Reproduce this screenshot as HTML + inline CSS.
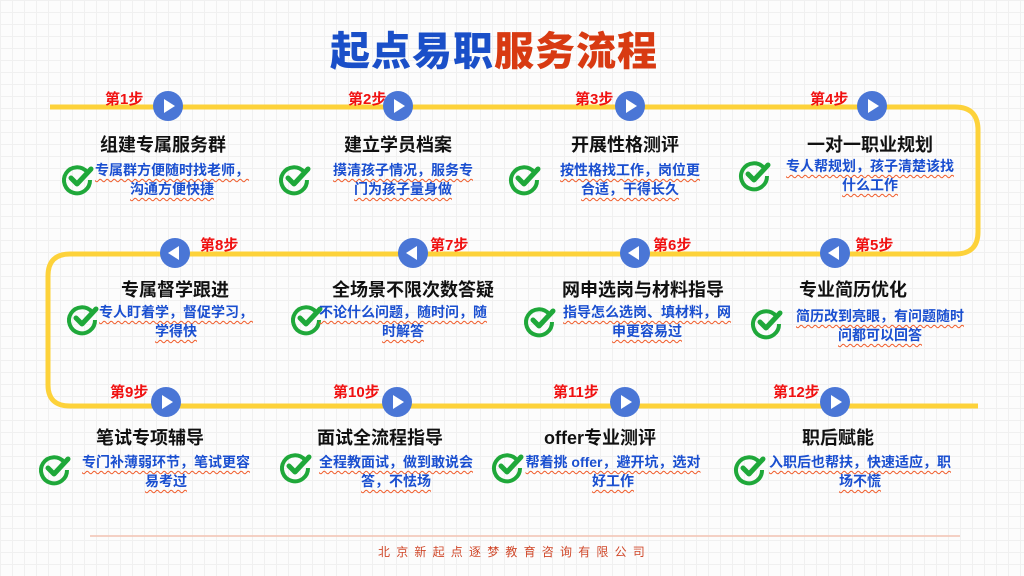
<!DOCTYPE html>
<html><head><meta charset="utf-8"><style>
body{margin:0;width:1024px;height:576px;overflow:hidden;position:relative;font-family:"Liberation Sans","Noto Sans CJK SC",sans-serif;
background:#fcfcfc;background-image:linear-gradient(#f0f0f0 1px,transparent 1px),linear-gradient(90deg,#f0f0f0 1px,transparent 1px);background-size:12px 12px;}
.t{position:absolute;transform:translateX(-50%);white-space:nowrap;}
.title{font-size:40px;font-weight:900;top:19px;left:494px;letter-spacing:1px}
.s{position:absolute;color:#f01010;font-weight:bold;font-size:15px;white-space:nowrap}
.h{position:absolute;transform:translateX(-50%);font-size:18px;font-weight:bold;color:#111;white-space:nowrap}
.d{position:absolute;transform:translateX(-50%);text-align:center;font-size:14px;font-weight:bold;color:#1a4fd0;line-height:19px;white-space:nowrap;text-decoration:underline wavy #f05a28;text-underline-offset:3px;text-decoration-thickness:1px}
.f{position:absolute;left:378px;top:543px;font-size:12px;letter-spacing:6.2px;color:#d0482a}
svg{position:absolute;left:0;top:0}
</style></head><body>
<svg width="1024" height="576">
<path d="M50 107 H955 Q978 107 978 130 V232 Q978 254 955 254 H70 Q48 254 48 276 V385 Q48 406 70 406 H978" fill="none" stroke="#fdd23a" stroke-width="5"/>
<line x1="90" y1="536" x2="960" y2="536" stroke="#f2c2b2" stroke-width="1.5"/>
<g fill="#4a76d6">
<circle cx="168" cy="106" r="15"/><circle cx="398" cy="106" r="15"/><circle cx="630" cy="106" r="15"/><circle cx="872" cy="106" r="15"/>
<circle cx="175" cy="253" r="15"/><circle cx="413" cy="253" r="15"/><circle cx="635" cy="253" r="15"/><circle cx="835" cy="253" r="15"/>
<circle cx="166" cy="402" r="15"/><circle cx="397" cy="402" r="15"/><circle cx="625" cy="402" r="15"/><circle cx="835" cy="402" r="15"/>
</g>
<g fill="#fff">
<path d="M164 99 L175 106 L164 113Z"/><path d="M394 99 L405 106 L394 113Z"/><path d="M626 99 L637 106 L626 113Z"/><path d="M868 99 L879 106 L868 113Z"/>
<path d="M179 246 L168 253 L179 260Z"/><path d="M417 246 L406 253 L417 260Z"/><path d="M639 246 L628 253 L639 260Z"/><path d="M839 246 L828 253 L839 260Z"/>
<path d="M162 395 L173 402 L162 409Z"/><path d="M393 395 L404 402 L393 409Z"/><path d="M621 395 L632 402 L621 409Z"/><path d="M831 395 L842 402 L831 409Z"/>
</g>
<defs><g id="ck"><path d="M9 -6 A13 13 0 1 0 12 2" fill="none" stroke="#1fa83a" stroke-width="4"/><path d="M-7 0 L-1 6 L13 -9" fill="none" stroke="#1fa83a" stroke-width="5" stroke-linecap="round" stroke-linejoin="round"/></g></defs>
<use href="#ck" x="78" y="178"/><use href="#ck" x="295" y="178"/><use href="#ck" x="525" y="178"/><use href="#ck" x="755" y="174"/>
<use href="#ck" x="83" y="318"/><use href="#ck" x="307" y="318"/><use href="#ck" x="540" y="320"/><use href="#ck" x="767" y="322"/>
<use href="#ck" x="55" y="468"/><use href="#ck" x="296" y="466"/><use href="#ck" x="508" y="466"/><use href="#ck" x="750" y="468"/>
</svg>
<div class="t title"><span style="color:#1a4fc8">起点易职</span><span style="color:#d83a12">服务流程</span></div>

<div class="s" style="left:105px;top:88px">第1步</div><div class="s" style="left:348px;top:88px">第2步</div><div class="s" style="left:575px;top:88px">第3步</div><div class="s" style="left:810px;top:88px">第4步</div>
<div class="s" style="left:200px;top:234px">第8步</div><div class="s" style="left:430px;top:234px">第7步</div><div class="s" style="left:653px;top:234px">第6步</div><div class="s" style="left:855px;top:234px">第5步</div>
<div class="s" style="left:110px;top:381px">第9步</div><div class="s" style="left:333px;top:381px">第10步</div><div class="s" style="left:553px;top:381px">第11步</div><div class="s" style="left:773px;top:381px">第12步</div>

<div class="h" style="left:163px;top:131px">组建专属服务群</div><div class="h" style="left:398px;top:131px">建立学员档案</div><div class="h" style="left:625px;top:131px">开展性格测评</div><div class="h" style="left:870px;top:131px">一对一职业规划</div>
<div class="h" style="left:175px;top:276px">专属督学跟进</div><div class="h" style="left:413px;top:276px">全场景不限次数答疑</div><div class="h" style="left:643px;top:276px">网申选岗与材料指导</div><div class="h" style="left:853px;top:276px">专业简历优化</div>
<div class="h" style="left:150px;top:424px">笔试专项辅导</div><div class="h" style="left:380px;top:424px">面试全流程指导</div><div class="h" style="left:600px;top:424px">offer专业测评</div><div class="h" style="left:838px;top:424px">职后赋能</div>

<div class="d" style="left:172px;top:161px">专属群方便随时找老师，<br>沟通方便快捷</div>
<div class="d" style="left:403px;top:161px">摸清孩子情况，服务专<br>门为孩子量身做</div>
<div class="d" style="left:630px;top:161px">按性格找工作，岗位更<br>合适，干得长久</div>
<div class="d" style="left:870px;top:157px">专人帮规划，孩子清楚该找<br>什么工作</div>
<div class="d" style="left:176px;top:303px">专人盯着学，督促学习，<br>学得快</div>
<div class="d" style="left:403px;top:303px">不论什么问题，随时问，随<br>时解答</div>
<div class="d" style="left:647px;top:303px">指导怎么选岗、填材料，网<br>申更容易过</div>
<div class="d" style="left:880px;top:307px">简历改到亮眼，有问题随时<br>问都可以回答</div>
<div class="d" style="left:166px;top:453px">专门补薄弱环节，笔试更容<br>易考过</div>
<div class="d" style="left:396px;top:453px">全程教面试，做到敢说会<br>答，不怯场</div>
<div class="d" style="left:613px;top:453px">帮着挑 offer，避开坑，选对<br>好工作</div>
<div class="d" style="left:860px;top:453px">入职后也帮扶，快速适应，职<br>场不慌</div>

<div class="f">北京新起点逐梦教育咨询有限公司</div>
</body></html>
